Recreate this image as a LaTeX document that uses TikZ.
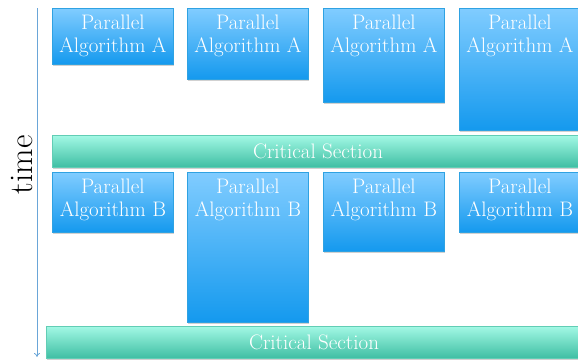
\documentclass[tikz,border=0pt]{standalone}
\usepackage{fontspec}
\usetikzlibrary{shadows,arrows.meta}
\definecolor{partop}{HTML}{80CCFF}
\definecolor{parbot}{HTML}{1499EE}
\definecolor{parline}{HTML}{2FA2E2}
\definecolor{crittop}{HTML}{A2F8E4}
\definecolor{critbot}{HTML}{3EBEA3}
\definecolor{critline}{HTML}{62CDB5}
\definecolor{timeline}{HTML}{6AA6D8}
\begin{document}
\begin{tikzpicture}[x=1pt, y=-1pt,
					softshadow/.style = {drop shadow={shadow xshift=0.6pt, shadow yshift=-1.4pt, opacity=0.3, fill=black!60}},
					parbox/.style = {draw=parline, line width=0.8pt, top color=partop, bottom color=parbot,
						minimum width=121pt, inner sep=0pt, anchor=north west, softshadow},
					critbox/.style = {draw=critline, line width=0.8pt, top color=crittop, bottom color=critbot,
						minimum height=32pt, inner sep=0pt, anchor=north west, softshadow},
					boxlabel/.style = {anchor=north, align=center, text=white, inner sep=6.5pt,
						font=\fontsize{21}{23.5}\selectfont},
					timearrow/.style = {draw=timeline, line width=0.8pt, -{To[length=4pt, width=6pt]}}
				]
				\def\atop{8}
				\def\btop{172}
				\useasboundingbox (0,0) rectangle (578,362);
				\clip (0,0) rectangle (578,362);
				% time axis
				\coordinate (tstart) at (37,8);
				\coordinate (tend) at (37,357);
				\draw[timearrow] (tstart) -- (tend);
				\node[rotate=90, font=\fontsize{33}{36}\selectfont, inner sep=0pt] (timelabel) at (22,165) {time};
				% first parallel phase
				\foreach \x/\h [count=\i] in {52/56, 187/71, 323/94, 459/122} {
					\node[parbox, minimum height=\h pt] (a\i) at (\x,\atop) {};
					\node[boxlabel] (a\i label) at (a\i.north) {Parallel\\Algorithm A};
				}
				\node[critbox, minimum width=540pt] (crit1) at (52,135) {};
				\node[text=white, font=\fontsize{21}{23}\selectfont] (crit1 label) at (318,151) {Critical Section};
				% second parallel phase
				\foreach \x/\h [count=\i] in {52/60, 187/150, 323/79, 459/60} {
					\node[parbox, minimum height=\h pt] (b\i) at (\x,\btop) {};
					\node[boxlabel] (b\i label) at (b\i.north) {Parallel\\Algorithm B};
				}
				\node[critbox, minimum width=546pt] (crit2) at (46,326) {};
				\node[text=white, font=\fontsize{21}{23}\selectfont] (crit2 label) at (314,342) {Critical Section};
			\end{tikzpicture}
\end{document}
